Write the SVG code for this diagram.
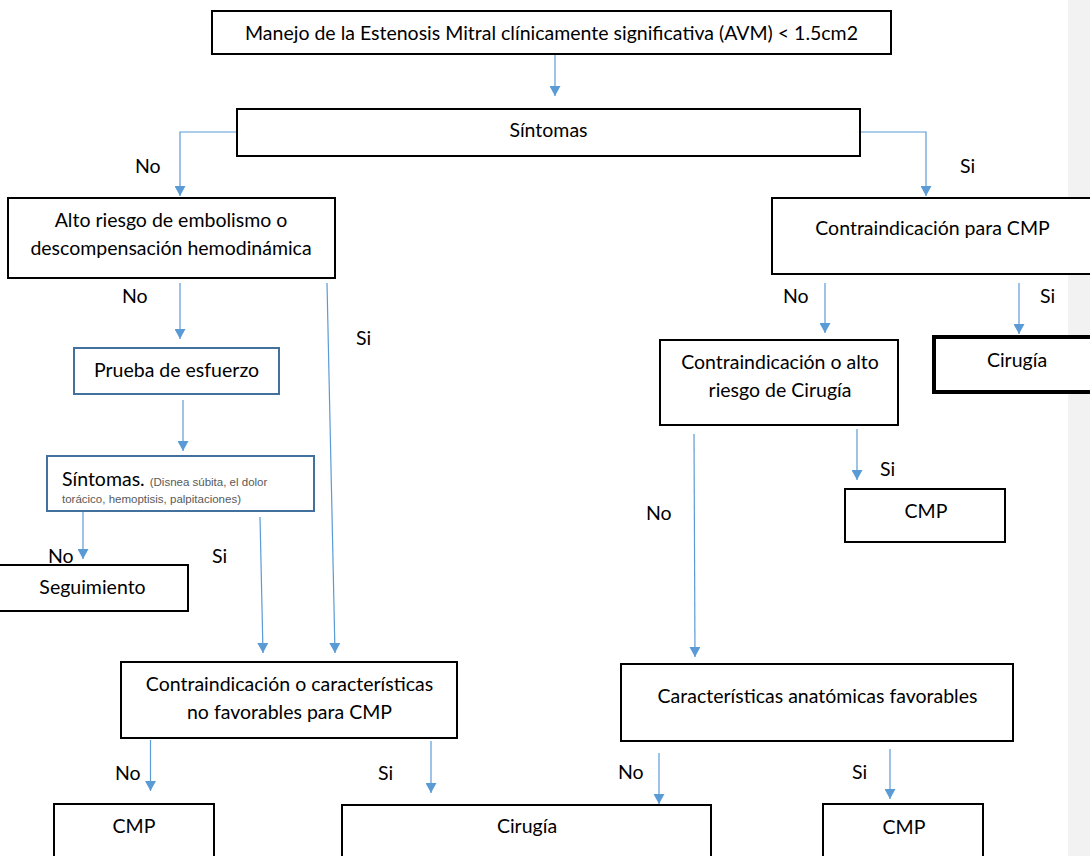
<svg xmlns="http://www.w3.org/2000/svg" width="1090" height="856" viewBox="0 0 1090 856">
<style>
.box{fill:#fff;stroke:#000;stroke-width:2}
.bbox{fill:#fff;stroke:#41719c;stroke-width:2}
.bold{fill:#fff;stroke:#000;stroke-width:4}
.t{font-family:Lato,"Liberation Sans",sans-serif;font-size:19.5px;fill:#000}
.c{text-anchor:middle}
.small{font-family:"Liberation Sans",Arial,sans-serif;font-size:11.5px;fill:#595959}
.conn{stroke:#5b9bd5;stroke-width:1.2;fill:none}
</style>
<defs>
<marker id="arr" markerUnits="userSpaceOnUse" markerWidth="11" markerHeight="11" refX="10" refY="5.5" orient="auto" viewBox="0 0 10 11">
<path d="M0,0 L10,5.5 L0,11 z" fill="#5b9bd5"/>
</marker>
</defs>
<rect x="0" y="0" width="1090" height="856" fill="#fff"/>
<rect x="1068" y="0" width="22" height="856" fill="#f2f2f2"/>

<g id="connectors">
<path class="conn" d="M555,54 V96" marker-end="url(#arr)"/>
<path class="conn" d="M237,132 H180 V196" marker-end="url(#arr)"/>
<path class="conn" d="M860,132 H926 V196" marker-end="url(#arr)"/>
<path class="conn" d="M180,283 V339" marker-end="url(#arr)"/>
<path class="conn" d="M327,283 L335,653" marker-end="url(#arr)"/>
<path class="conn" d="M183,400 V451" marker-end="url(#arr)"/>
<path class="conn" d="M83,511 V559" marker-end="url(#arr)"/>
<path class="conn" d="M260,517 L263,653" marker-end="url(#arr)"/>
<path class="conn" d="M150.5,740 V791" marker-end="url(#arr)"/>
<path class="conn" d="M431,741 V793" marker-end="url(#arr)"/>
<path class="conn" d="M825,283 V333" marker-end="url(#arr)"/>
<path class="conn" d="M1019,283 V334" marker-end="url(#arr)"/>
<path class="conn" d="M857,429 V480" marker-end="url(#arr)"/>
<path class="conn" d="M694,434 L695,657" marker-end="url(#arr)"/>
<path class="conn" d="M659,753 V804" marker-end="url(#arr)"/>
<path class="conn" d="M890,749 V799" marker-end="url(#arr)"/>
</g>

<g id="labels">
<text class="t" x="135" y="173">No</text>
<text class="t" x="960" y="173">Si</text>
<text class="t" x="122" y="303">No</text>
<text class="t" x="356" y="345">Si</text>
<text class="t" x="783" y="303">No</text>
<text class="t" x="1040" y="303">Si</text>
<text class="t" x="48" y="563">No</text>
<text class="t" x="212" y="563">Si</text>
<text class="t" x="880" y="476">Si</text>
<text class="t" x="646" y="520">No</text>
<text class="t" x="115" y="780">No</text>
<text class="t" x="378" y="780">Si</text>
<text class="t" x="618" y="779">No</text>
<text class="t" x="852" y="779">Si</text>
</g>

<g id="n-top">
<rect class="box" x="212" y="11" width="679" height="43"/>
<text class="t c" x="551.5" y="40">Manejo de la Estenosis Mitral clínicamente significativa (AVM) &lt; 1.5cm2</text>
</g>
<g id="n-sintomas">
<rect class="box" x="237" y="109" width="623" height="47"/>
<text class="t c" x="548.5" y="137">Síntomas</text>
</g>
<g id="n-alto-riesgo">
<rect class="box" x="8" y="198" width="327" height="80"/>
<text class="t c" x="171" y="227">Alto riesgo de embolismo o</text>
<text class="t c" x="171" y="255">descompensación hemodinámica</text>
</g>
<g id="n-contra-cmp">
<rect class="box" x="772" y="198" width="330" height="76"/>
<text class="t c" x="932.5" y="235">Contraindicación para CMP</text>
</g>
<g id="n-prueba">
<rect class="bbox" x="74" y="348" width="205" height="46"/>
<text class="t c" x="176.5" y="377">Prueba de esfuerzo</text>
</g>
<g id="n-sintomas2">
<rect class="bbox" x="47" y="456" width="267" height="55"/>
<text x="62" y="486"><tspan class="t">Síntomas.</tspan><tspan class="small" dx="5">(Disnea súbita, el dolor</tspan></text>
<text class="small" x="62" y="503">torácico, hemoptisis, palpitaciones)</text>
</g>
<g id="n-seguimiento">
<rect class="box" x="-5" y="565" width="193" height="46"/>
<text class="t c" x="92.5" y="594">Seguimiento</text>
</g>
<g id="n-contra-caract">
<rect class="box" x="121" y="662" width="336" height="76"/>
<text class="t c" x="289.5" y="691">Contraindicación o características</text>
<text class="t c" x="289.5" y="719">no favorables para CMP</text>
</g>
<g id="n-contra-alto">
<rect class="box" x="660" y="340" width="238" height="85"/>
<text class="t c" x="780" y="369">Contraindicación o alto</text>
<text class="t c" x="780" y="397">riesgo de Cirugía</text>
</g>
<g id="n-cirugia-top">
<rect class="bold" x="934" y="337" width="170" height="55"/>
<text class="t c" x="1017" y="367">Cirugía</text>
</g>
<g id="n-cmp-mid">
<rect class="box" x="845" y="489" width="160" height="53"/>
<text class="t c" x="926" y="518">CMP</text>
</g>
<g id="n-caract-anat">
<rect class="box" x="621" y="664" width="392" height="77"/>
<text class="t c" x="817.5" y="703">Características anatómicas favorables</text>
</g>
<g id="n-cmp-left">
<rect class="box" x="54" y="804" width="160" height="70"/>
<text class="t c" x="134" y="833">CMP</text>
</g>
<g id="n-cirugia-bottom">
<rect class="box" x="342" y="805" width="369" height="70"/>
<text class="t c" x="527" y="833">Cirugía</text>
</g>
<g id="n-cmp-right">
<rect class="box" x="823" y="804" width="160" height="70"/>
<text class="t c" x="904" y="834">CMP</text>
</g>
</svg>
